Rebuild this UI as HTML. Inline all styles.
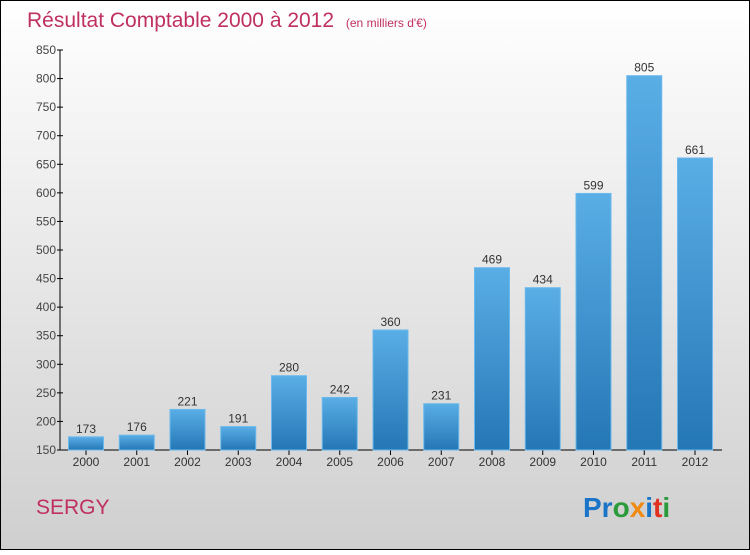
<!DOCTYPE html>
<html><head><meta charset="utf-8"><style>
body{margin:0;width:750px;height:550px;overflow:hidden;font-family:"Liberation Sans",sans-serif}
</style></head><body>
<svg width="750" height="550" xmlns="http://www.w3.org/2000/svg">
<defs>
<linearGradient id="bg" x1="0" y1="0" x2="0" y2="1"><stop offset="0" stop-color="#ffffff"/><stop offset="1" stop-color="#cfcfcf"/></linearGradient>
<linearGradient id="bar" x1="0" y1="0" x2="0" y2="1"><stop offset="0" stop-color="#5aaee6"/><stop offset="1" stop-color="#2477b5"/></linearGradient>
</defs>
<rect x="0.5" y="0.5" width="749" height="549" fill="url(#bg)" stroke="#000"/>
<text x="27" y="27" font-size="21" fill="#c0305f">Résultat Comptable 2000 à 2012 <tspan font-size="12" dx="6">(en milliers d'€)</tspan></text>
<g id="axes"></g>
<g id="bars"></g>
<text x="36" y="514" font-size="21" fill="#c0305f">SERGY</text>
<text x="583" y="517" font-size="28" font-weight="bold"><tspan fill="#1a74c8">Pr</tspan><tspan fill="#2a9a3a">o</tspan><tspan fill="#f08a10">x</tspan><tspan fill="#1a74c8">i</tspan><tspan fill="#e03020">t</tspan><tspan fill="#2a9a3a">i</tspan></text>
</svg>
<script>
const years=["2000","2001","2002","2003","2004","2005","2006","2007","2008","2009","2010","2011","2012"];
const values=[173,176,221,191,280,242,360,231,469,434,599,805,661];
const yTicks=[150,200,250,300,350,400,450,500,550,600,650,700,750,800,850];
const NS="http://www.w3.org/2000/svg";
const y=v=>450-(v-150)*400/700;
const xc=i=>86+i*50.75;
function mk(t,a,p){const e=document.createElementNS(NS,t);for(const k in a)e.setAttribute(k,a[k]);p.appendChild(e);return e;}
const ax=document.getElementById('axes'),bg=document.getElementById('bars');
const yl=mk('line',{x1:60,y1:50,x2:60,y2:450,stroke:'#000'},ax);


const xl=mk('line',{x1:60,y1:450,x2:722,y2:450,stroke:'#000'},ax);


yTicks.forEach(v=>{
 mk('line',{x1:57,y1:y(v),x2:63,y2:y(v),stroke:'#000'},ax);
 const t=mk('text',{x:56,y:y(v)+4,'text-anchor':'end','font-size':12,fill:'#444'},ax);
 t.textContent=v;
 
 
});
years.forEach((yr,i)=>{
 const v=values[i];
 const r=mk('rect',{x:xc(i)-17.5,y:y(v),width:35,height:450-y(v),fill:'url(#bar)',stroke:'#6bb8ec','stroke-width':1},bg);
 
 
 const l=mk('text',{x:xc(i),y:y(v)-4,'text-anchor':'middle','font-size':12,fill:'#333'},bg);
 l.textContent=v;
 
 
 mk('line',{x1:xc(i),y1:450,x2:xc(i),y2:455,stroke:'#000'},ax);
 const xt=mk('text',{x:xc(i),y:466,'text-anchor':'middle','font-size':12,fill:'#333'},ax);
 xt.textContent=yr;
 
 
});
</script>
</body></html>
